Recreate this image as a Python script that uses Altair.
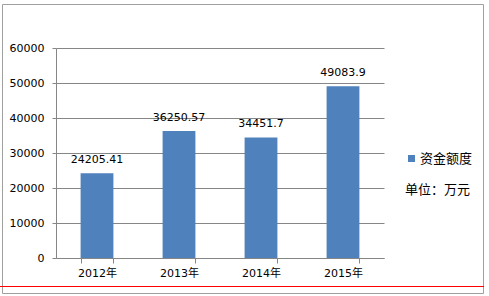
import altair as alt
import pandas as pd

years = ["2012年", "2013年", "2014年", "2015年"]
amounts = [24205.41, 36250.57, 34451.7, 49083.9]
labels = ["24205.41", "36250.57", "34451.7", "49083.9"]
series_name = "资金额度"
unit_text = "单位：万元"
y_ticks = [0, 10000, 20000, 30000, 40000, 50000, 60000]

df = pd.DataFrame({"year": years, "amount": amounts, "label": labels,
                   "series": [series_name] * len(years)})

FONT = "DejaVu Sans, Noto Sans CJK SC"
GRAY = "#868686"
BLUE = "#4F81BD"

x_enc = alt.X("year:N", sort=years, title=None,
              scale=alt.Scale(paddingInner=0.6, paddingOuter=0.3),
              axis=alt.Axis(labelAngle=0, tickBand="extent", domainColor=GRAY,
                            tickColor=GRAY, tickSize=5, labelPadding=4,
                            labelFont=FONT, labelFontSize=11, labelColor="#000000",
                            grid=False))
y_enc = alt.Y("amount:Q", title=None,
              scale=alt.Scale(domain=[0, 60000], nice=False),
              axis=alt.Axis(values=y_ticks, format="d", domainColor=GRAY,
                            tickColor=GRAY, tickSize=4, labelPadding=8,
                            gridColor=GRAY, gridWidth=1, grid=True, labelOverlap=False,
                            labelFont=FONT, labelFontSize=11, labelColor="#000000"))

base = alt.Chart(df)
bars = base.mark_bar().encode(
    x=x_enc, y=y_enc,
    color=alt.Color("series:N", scale=alt.Scale(range=[BLUE]),
                    legend=alt.Legend(title=None, orient="none", legendX=349, legendY=104,
                                      symbolType="square", symbolSize=49,
                                      symbolStrokeWidth=0, labelFont=FONT,
                                      labelFontSize=13, labelOffset=2, padding=0,
                                      labelColor="#000000"))
)
texts = base.mark_text(font=FONT, fontSize=11, baseline="middle", dy=-13,
                       color="#000000").encode(x=x_enc, y=y_enc, text="label:N")

unit = alt.Chart(pd.DataFrame({"t": [unit_text]})).mark_text(
    font=FONT, fontSize=13, align="left", baseline="middle", color="#000000"
).encode(text="t:N", x=alt.value(349), y=alt.value(142))

border = alt.Chart(pd.DataFrame({"t": [0]})).mark_rect(
    fill=None, stroke="#A0A0A0", strokeWidth=1
).encode(x=alt.value(-53.5), x2=alt.value(427.5), y=alt.value(-43.5), y2=alt.value(245.5))

redline = alt.Chart(pd.DataFrame({"t": [0]})).mark_rule(
    color="#FF0000", strokeWidth=1
).encode(x=alt.value(-56), x2=alt.value(428), y=alt.value(238.5))

chart = alt.layer(border, bars, texts, unit, redline).properties(
    width=328, height=210,
    autosize=alt.AutoSizeParams(type="none"),
    padding={"left": 56, "top": 48, "right": 105, "bottom": 38},
    background="#FFFFFF",
).configure_view(stroke=None)

chart.save("out.html", embed_options={"renderer": "svg", "actions": False})
